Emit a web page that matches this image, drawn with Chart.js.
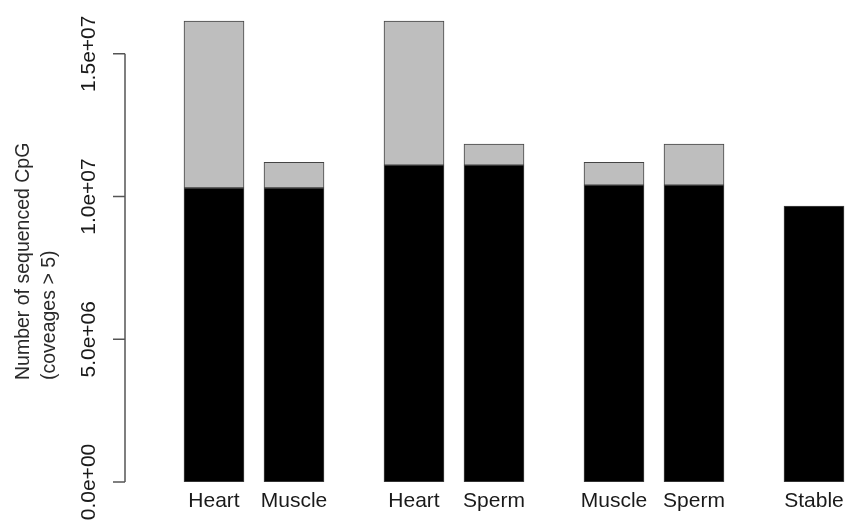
<!DOCTYPE html>
<html>
<head>
<meta charset="utf-8">
<script src="https://cdn.jsdelivr.net/npm/chart.js@4/dist/chart.umd.min.js"></script>
<style>
  body { margin: 0; background: #fff; }
  #wrap { width: 845px; height: 527px; }
</style>
</head>
<body>
<div id="wrap"><canvas id="cpgChart"></canvas></div>
<script>
    // bar labels and which comparison group each bar belongs to
    const barLabels = ['Heart', 'Muscle', 'Heart', 'Sperm', 'Muscle', 'Sperm', 'Stable'];
    const barGroup = [0, 0, 1, 1, 2, 2, 3];
    // total sequenced CpG (top of bar) and the shared part (black)
    const totalCpG = [16.15e6, 11.2e6, 16.15e6, 11.84e6, 11.2e6, 11.84e6, 9.67e6];
    const sharedCpG = [10.3e6, 10.3e6, 11.1e6, 11.1e6, 10.4e6, 10.4e6, 9.67e6];
    const yTicks = [0, 5e6, 1e7, 1.5e7];
    const yTickLabels = ['0.0e+00', '5.0e+06', '1.0e+07', '1.5e+07'];

    // x value for each bar: slot inside group, groups 2.5 bar-steps apart
    const xValues = barGroup.map((g, i) => g * 2.5 + barGroup.slice(0, i).filter(v => v === g).length);

    const sharedData = sharedCpG.map((v, i) => ({ x: xValues[i], y: v }));
    const extraData = totalCpG.map((v, i) => {
        const rest = v - sharedCpG[i];
        return { x: xValues[i], y: rest > 0 ? rest : null };
    });

    const FONT = '"Liberation Sans", Arial, sans-serif';

    // draws the R-style y axis, rotated tick labels, bar names and axis title
    const baseAxes = {
        id: 'baseAxes',
        afterDraw(chart) {
            const ctx = chart.ctx;
            const yScale = chart.scales.y;
            const xScale = chart.scales.x;
            const axisX = chart.chartArea.left;
            const yTop = yScale.getPixelForValue(yTicks[yTicks.length - 1]);
            const yBottom = yScale.getPixelForValue(yTicks[0]);

            ctx.save();
            ctx.strokeStyle = '#555';
            ctx.lineWidth = 1.5;
            ctx.beginPath();
            ctx.moveTo(axisX, yTop);
            ctx.lineTo(axisX, yBottom);
            yTicks.forEach(t => {
                const py = yScale.getPixelForValue(t);
                ctx.moveTo(axisX, py);
                ctx.lineTo(axisX - 12, py);
            });
            ctx.stroke();

            ctx.fillStyle = '#1a1a1a';
            ctx.font = '21px ' + FONT;
            ctx.textAlign = 'center';
            ctx.textBaseline = 'middle';
            yTicks.forEach((t, i) => {
                const py = yScale.getPixelForValue(t);
                ctx.save();
                ctx.translate(axisX - 36, py);
                ctx.rotate(-Math.PI / 2);
                ctx.fillText(yTickLabels[i], 0, 0);
                ctx.restore();
            });

            // bar names
            ctx.textBaseline = 'alphabetic';
            barLabels.forEach((lbl, i) => {
                ctx.fillText(lbl, xScale.getPixelForValue(xValues[i]), yBottom + 25);
            });

            // axis title, two lines
            ctx.font = '19.5px ' + FONT;
            ctx.fillStyle = '#2a2a2a';
            ctx.textAlign = 'left';
            ctx.textBaseline = 'middle';
            [['Number of sequenced CpG', 24], ['(coveages > 5)', 50]].forEach(([txt, px]) => {
                ctx.save();
                ctx.translate(px, 380);
                ctx.rotate(-Math.PI / 2);
                ctx.fillText(txt, 0, 0);
                ctx.restore();
            });
            ctx.restore();
        }
    };

    const cpgCtx = document.getElementById('cpgChart').getContext('2d');
    const cpgChart = new Chart(cpgCtx, {
        type: 'bar',
        data: {
            datasets: [{
                label: 'Shared',
                data: sharedData,
                backgroundColor: '#000000',
                borderColor: '#444444',
                borderWidth: 1,
                borderSkipped: false,
                barThickness: 60
            }, {
                label: 'Total',
                data: extraData,
                backgroundColor: '#bebebe',
                borderColor: '#444444',
                borderWidth: 1,
                borderSkipped: false,
                barThickness: 60
            }]
        },
        options: {
            responsive: true,
            maintainAspectRatio: false,
            animation: false,
            layout: { padding: { left: 125, right: 0, top: 11, bottom: 45 } },
            scales: {
                x: {
                    type: 'linear',
                    stacked: true,
                    offset: false,
                    min: -1.1125,
                    max: 7.8875,
                    display: false
                },
                y: {
                    stacked: true,
                    min: 0,
                    max: 16.5e6,
                    display: false
                }
            },
            plugins: {
                legend: { display: false },
                tooltip: { enabled: false }
            }
        },
        plugins: [baseAxes]
    });
</script>
</body>
</html>
